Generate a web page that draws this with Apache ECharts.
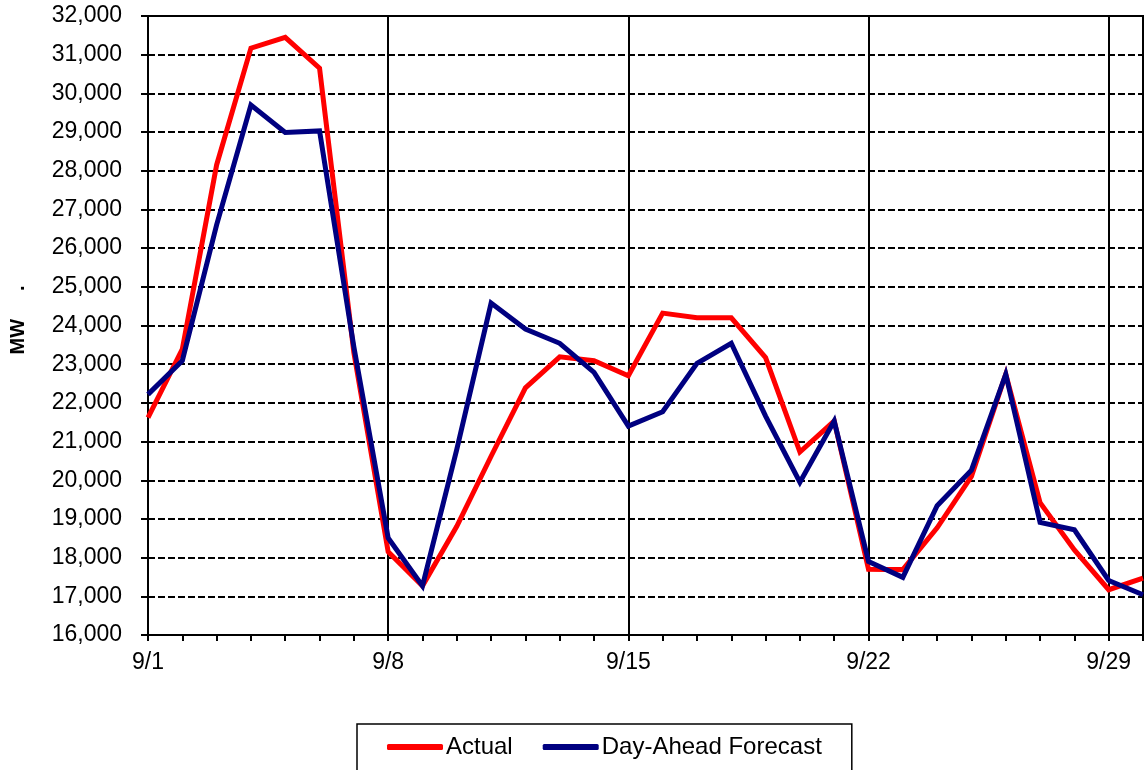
<!DOCTYPE html>
<html>
<head>
<meta charset="utf-8">
<script src="https://cdn.jsdelivr.net/npm/echarts@6/dist/echarts.min.js"></script>
<style>
  html, body { margin: 0; padding: 0; background: #fff; }
  #main { width: 1148px; height: 770px; }
</style>
</head>
<body>
<div id="main"></div>
<script>
var days = ['9/1','9/2','9/3','9/4','9/5','9/6','9/7','9/8','9/9','9/10',
  '9/11','9/12','9/13','9/14','9/15','9/16','9/17','9/18','9/19','9/20',
  '9/21','9/22','9/23','9/24','9/25','9/26','9/27','9/28','9/29','9/30'];

var actual = [21620, 23390, 28150, 31170, 31450, 30650, 23300, 18150, 17270, 18810,
  20620, 22390, 23190, 23090, 22700, 24320, 24200, 24200, 23170, 20730,
  21530, 17700, 17690, 18770, 20100, 22740, 19420, 18200, 17170, 17470];

var forecast = [22220, 23090, 26600, 29700, 28990, 29030, 23450, 18510, 17270, 20800,
  24580, 23910, 23540, 22790, 21400, 21770, 23020, 23540, 21660, 19950,
  21530, 17900, 17490, 19340, 20260, 22740, 18910, 18720, 17410, 17040];

var seriesNames = ['Actual', 'Day-Ahead Forecast'];

var font = 'Liberation Sans, Arial, sans-serif';
var myChart = echarts.init(document.getElementById('main'));

var option = {
  animation: false,
  backgroundColor: '#fff',
  grid: {
    left: 147,
    right: 5,
    top: 16,
    bottom: 135,
    show: true,
    borderColor: '#000',
    borderWidth: 2
  },
  legend: {
    data: seriesNames,
    left: 357,
    top: 724,
    orient: 'horizontal',
    icon: 'roundRect',
    itemWidth: 56,
    itemHeight: 6,
    itemGap: 30,
    padding: [11, 30, 40, 30],
    borderColor: '#000',
    borderWidth: 1.5,
    textStyle: { fontFamily: font, fontSize: 24, color: '#000', padding: [0, 0, 0, -2] }
  },
  xAxis: {
    type: 'category',
    data: days,
    boundaryGap: false,
    axisLine: { lineStyle: { color: '#000', width: 2 } },
    axisTick: { show: true, interval: 0, length: 6, lineStyle: { color: '#000', width: 2 } },
    axisLabel: { interval: 6, margin: 16, fontFamily: font, fontSize: 23, color: '#000' },
    splitLine: {
      show: true,
      interval: function (i) { return i % 7 === 0; },
      lineStyle: { color: '#000', width: 2, type: 'solid' }
    }
  },
  yAxis: {
    type: 'value',
    min: 16000,
    max: 32000,
    interval: 1000,
    name: '  MW     .',
    nameLocation: 'middle',
    nameGap: 120,
    nameTextStyle: { fontFamily: font, fontSize: 20, fontWeight: 'bold', color: '#000' },
    axisLine: { show: true, lineStyle: { color: '#000', width: 2 } },
    axisTick: { show: true, length: 7, lineStyle: { color: '#000', width: 2 } },
    axisLabel: {
      margin: 26,
      fontFamily: font,
      fontSize: 23,
      color: '#000',
      formatter: function (v) { return v.toLocaleString('en-US'); }
    },
    splitLine: { show: true, lineStyle: { color: '#000', width: 2, type: [7, 3] } }
  },
  series: [
    {
      name: seriesNames[0],
      type: 'line',
      data: actual,
      symbol: 'none',
      color: '#ff0000',
      lineStyle: { color: '#ff0000', width: 5, join: 'miter' }
    },
    {
      name: seriesNames[1],
      type: 'line',
      data: forecast,
      symbol: 'none',
      color: '#000080',
      lineStyle: { color: '#000080', width: 5, join: 'miter' }
    }
  ]
};
myChart.setOption(option, true);
</script>
</body>
</html>
